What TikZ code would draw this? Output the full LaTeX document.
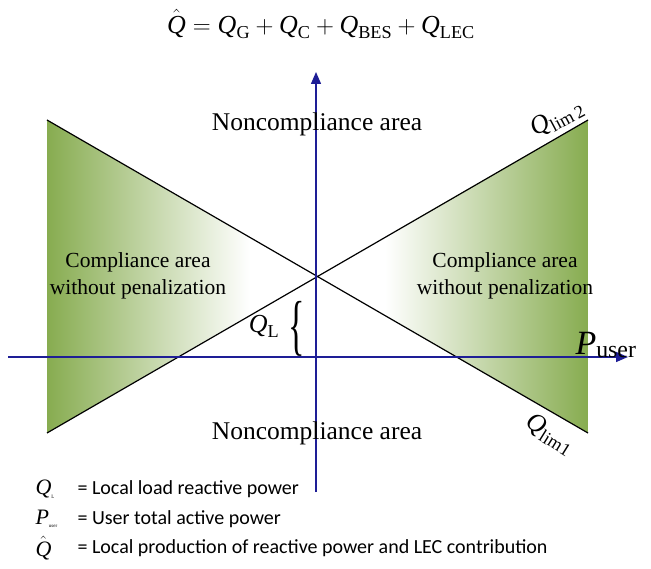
\documentclass[tikz,border=0pt]{standalone}
\usepackage{amsmath}
\usepackage{fontspec}
\setmainfont{Liberation Serif}
\newfontfamily\legfont{Carlito}
\usetikzlibrary{arrows.meta}
\definecolor{axisblue}{RGB}{30,30,150}
\definecolor{zonegreen}{RGB}{135,172,80}
\newcommand{\QQ}{\text{\itshape Q}}
\newcommand{\PP}{\text{\itshape P}}
\tikzset{
  axis/.style={draw=axisblue, line width=1.4pt, -{Triangle[length=12pt,width=10pt]}},
  limline/.style={draw=black, line width=1.2pt},
  area/.style={font=\fontsize{25.5}{30}\selectfont, align=center},
  comp/.style={font=\fontsize{21.5}{27}\selectfont, align=center},
  leg/.style={font=\legfont\fontsize{20}{22}\selectfont, anchor=west},
  sym/.style={anchor=west, font=\fontsize{22}{24}\selectfont},
  bigmath/.style={font=\fontsize{26}{30}\selectfont}
}
\begin{document}
\begin{tikzpicture}[x=1pt,y=-1pt]
\useasboundingbox (0,0) rectangle (651,569);
\coordinate (O) at (316,276);
\coordinate (LT) at (47,120);
\coordinate (LB) at (47,433);
\coordinate (RT) at (588,120);
\coordinate (RB) at (588,433);
\coordinate (xs) at (8,357);
\coordinate (xe) at (628,357);
\coordinate (ys) at (316,492);
\coordinate (ye) at (316,72);
% green zones
\begin{scope}
\clip (LT) -- (O) -- (LB) -- cycle;
\shade[left color=zonegreen, right color=white] (47,100) rectangle (250,450);
\end{scope}
\begin{scope}
\clip (RT) -- (O) -- (RB) -- cycle;
\shade[left color=white, right color=zonegreen] (385,100) rectangle (588,450);
\end{scope}
% limit lines
\draw[limline] (LB) -- (RT);
\draw[limline] (LT) -- (RB);
% axes
\draw[axis] (xs) -- (xe);
\draw[axis] (ys) -- (ye);
% formula
\node[bigmath] (formula) at (321,24)
  {$\hat{\QQ} = \QQ_{\text{G}} + \QQ_{\text{C}} + \QQ_{\text{BES}} + \QQ_{\text{LEC}}$};
% area labels
\node[area] (ncTop) at (317,124) {Noncompliance area};
\node[area] (ncBot) at (317,433) {Noncompliance area};
\node[comp] (cL) at (138,276) {Compliance area\\without penalization};
\node[comp] (cR) at (505,276) {Compliance area\\without penalization};
% limit labels
\node[bigmath, rotate=28] (qlim2) at (557,118) {$\QQ_{\text{lim\,2}}$};
\node[bigmath, rotate=-32] (qlim1) at (550,434) {$\QQ_{\text{lim1}}$};
% P user
\node[font=\fontsize{34}{36}\selectfont] (puser) at (606,345) {$\PP_{\text{user}}$};
% Q_L with brace
\node[bigmath] (ql) at (264,326) {$\QQ_{\text{L}}$};
\node[inner sep=0pt] (brace) at (297,329) {\scalebox{0.9}[1.75]{\fontsize{38}{40}\selectfont\{}};
% legend
\node[sym] (s1) at (32,489) {$\QQ_{\text{\tiny L}}$};
\node[leg] (l1) at (74,489) {= Local load reactive power};
\node[sym] (s2) at (32,519) {$\PP_{\text{\tiny user}}$};
\node[leg] (l2) at (74,519) {= User total active power};
\node[sym] (s3) at (32,548) {$\hat{\QQ}$};
\node[leg] (l3) at (74,548) {= Local production of reactive power and LEC contribution};
\end{tikzpicture}
\end{document}
